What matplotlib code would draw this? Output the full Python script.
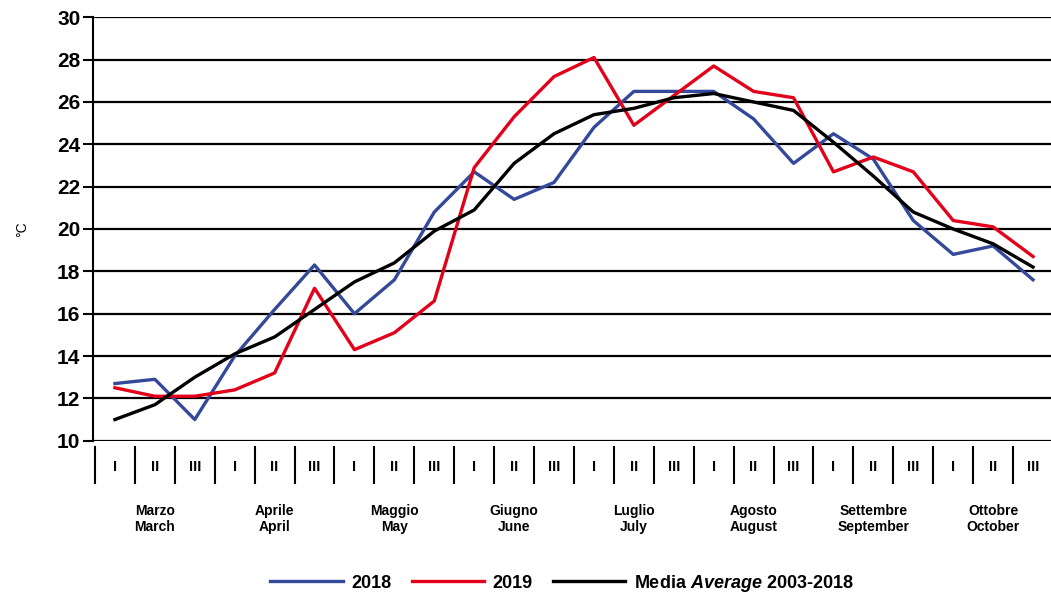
import matplotlib
matplotlib.use("Agg")
import matplotlib.pyplot as plt
import matplotlib.transforms as mtransforms

# dekads Mar..Oct (I, II, III)
months_it = ["Marzo", "Aprile", "Maggio", "Giugno", "Luglio", "Agosto", "Settembre", "Ottobre"]
months_en = ["March", "April", "May", "June", "July", "August", "September", "October"]
dekads = ["I", "II", "III"]

t2018 = [12.7, 12.9, 11.0, 14.0, 16.2, 18.3, 16.0, 17.6, 20.8, 22.7, 21.4, 22.2,
         24.8, 26.5, 26.5, 26.5, 25.2, 23.1, 24.5, 23.3, 20.4, 18.8, 19.2, 17.6]
t2019 = [12.5, 12.1, 12.1, 12.4, 13.2, 17.2, 14.3, 15.1, 16.6, 22.9, 25.3, 27.2,
         28.1, 24.9, 26.3, 27.7, 26.5, 26.2, 22.7, 23.4, 22.7, 20.4, 20.1, 18.7]
t_avg = [11.0, 11.7, 13.0, 14.1, 14.9, 16.2, 17.5, 18.4, 19.9, 20.9, 23.1, 24.5,
         25.4, 25.7, 26.2, 26.4, 26.0, 25.6, 24.1, 22.5, 20.8, 20.0, 19.3, 18.2]

plt.rcParams["font.family"] = ["Liberation Sans", "DejaVu Sans"]
plt.rcParams["mathtext.fontset"] = "custom"
plt.rcParams["mathtext.it"] = "Liberation Sans:italic:bold"

fig = plt.figure(figsize=(10.51, 5.96), dpi=100)
ax = fig.add_axes([93 / 1051, 1 - 440.7 / 596, 1 - 93 / 1051, (440.7 - 17.3) / 596])

x = [i + 0.5 for i in range(len(t2018))]
ax.plot(x, t2018, color="#34499a", lw=2.4, label="2018", zorder=3)
ax.plot(x, t2019, color="#e2001a", lw=2.4, label="2019", zorder=3)
ax.plot(x, t_avg, color="black", lw=2.4, label="Media $\\mathit{Average}$ 2003-2018", zorder=4)

ax.set_ylim(10, 30)
ax.set_xlim(-0.05, 23.95)
ax.set_yticks(range(10, 31, 2))
ax.grid(axis="y", color="black", lw=1.6)
ax.set_axisbelow(True)
ax.set_xticks([])
for s in ["top", "right", "bottom"]:
    ax.spines[s].set_visible(False)
ax.spines["left"].set_linewidth(1.5)
ax.tick_params(axis="y", length=7, width=1.5, pad=2, labelsize=15)
for lab in ax.get_yticklabels():
    lab.set_fontweight("bold")
ax.set_ylabel("°C", fontsize=10, labelpad=20)

# dekad separators, numerals and month names below the axis
trans = mtransforms.blended_transform_factory(ax.transData, ax.transAxes)
for b in range(24):
    ax.plot([b, b], [-0.015, -0.1], color="black", lw=1.5, transform=trans, clip_on=False)
for i in range(24):
    ax.text(i + 0.5, -0.063, dekads[i % 3], transform=trans, ha="center", va="center",
            fontsize=10.5, fontweight="bold")
for m in range(len(months_it)):
    ax.text(3 * m + 1.5, -0.185, months_it[m] + "\n" + months_en[m], transform=trans,
            ha="center", va="center", fontsize=10, fontweight="bold", linespacing=1.2)

handles, labels = ax.get_legend_handles_labels()
fig.legend(handles, labels, loc="center", bbox_to_anchor=(562 / 1051, 1 - 583 / 596),
           ncol=3, frameon=False, handlelength=4.0, handletextpad=0.5, columnspacing=1.1,
           prop={"weight": "bold", "size": 13})

fig.savefig("out.png", dpi=100)
